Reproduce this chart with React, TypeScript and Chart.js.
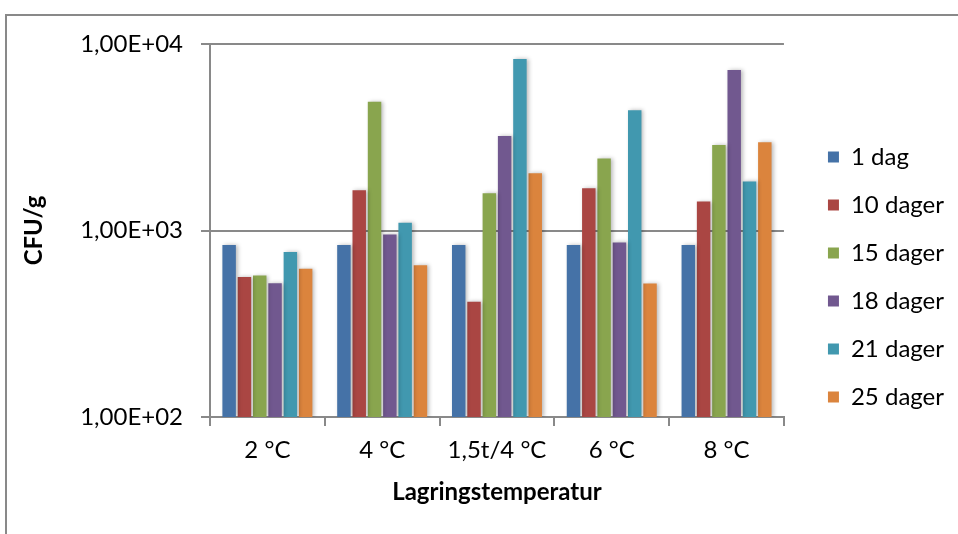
import React, { useEffect, useRef } from 'react';
import { Chart, registerables } from 'chart.js';

Chart.register(...registerables);

const categories = ['2 °C', '4 °C', '1,5t/4 °C', '6 °C', '8 °C'];
const seriesNames = ['1 dag', '10 dager', '15 dager', '18 dager', '21 dager', '25 dager'];
const dag1 = [835, 835, 835, 835, 835];
const dager10 = [564, 1645, 415, 1687, 1429];
const dager15 = [573, 4909, 1585, 2430, 2876];
const dager18 = [522, 952, 3215, 863, 7260];
const dager21 = [767, 1099, 8310, 4413, 1832];
const dager25 = [624, 652, 2030, 520, 2972];
const yTickValues = [100, 1000, 10000];
const yTickLabels = ['1,00E+02', '1,00E+03', '1,00E+04'];
const colors = ['#4572A7', '#AA4643', '#89A54E', '#71588F', '#4198AF', '#DB843D'];

const FONT = 'Lato, "Open Sans", sans-serif';
const GRID = '#898989';

const shadowPlugin = {
  id: 'barShadow',
  beforeDatasetsDraw(chart: any) {
    const ctx = chart.ctx;
    ctx.save();
    ctx.shadowColor = 'rgba(0,0,0,0.28)';
    ctx.shadowBlur = 4;
    ctx.shadowOffsetX = 2;
    ctx.shadowOffsetY = 0;
  },
  afterDatasetsDraw(chart: any) {
    chart.ctx.restore();
  },
};

export default function App() {
  const ref = useRef<HTMLCanvasElement | null>(null);

  useEffect(() => {
    if (!ref.current) return;
    const series = [dag1, dager10, dager15, dager18, dager21, dager25];
    const chart = new Chart(ref.current, {
      type: 'bar',
      data: {
        labels: categories,
        datasets: series.map((d, i) => ({
          label: seriesNames[i],
          data: d,
          backgroundColor: colors[i],
          borderWidth: 0,
          categoryPercentage: 0.8,
          barPercentage: 0.88,
          yAxisID: 'y',
        })),
      },
      options: {
        responsive: false,
        animation: false,
        devicePixelRatio: 1,
        layout: { padding: { top: 44, bottom: 24, left: 0, right: 4 } },
        plugins: {
          legend: {
            position: 'right',
            align: 'center',
            labels: {
              boxWidth: 11,
              boxHeight: 11,
              padding: 24,
              color: '#000',
              font: { family: FONT, size: 24 },
            },
          },
          tooltip: { enabled: false },
        },
        scales: {
          x: {
            grid: { drawOnChartArea: false, drawTicks: true, tickLength: 9, color: GRID, lineWidth: 2, offset: true },
            border: { display: true, color: GRID, width: 2 },
            ticks: { color: '#000', font: { family: FONT, size: 24 }, padding: 10, maxRotation: 0 },
            title: {
              display: true,
              text: 'Lagringstemperatur',
              color: '#000',
              font: { family: FONT, size: 24, weight: 'bold' },
              padding: { top: 0, bottom: 3 },
            },
            afterFit: (s: any) => { s.height = 93; },
          },
          y: {
            type: 'logarithmic',
            min: 100,
            max: 10000,
            grid: { color: GRID, lineWidth: 2, tickLength: 9 },
            border: { display: true, color: GRID, width: 2 },
            ticks: {
              color: '#000',
              font: { family: FONT, size: 24 },
              padding: 18,
              callback: (v: any) => {
                const idx = yTickValues.indexOf(Number(v));
                return idx >= 0 ? yTickLabels[idx] : '';
              },
            },
            afterBuildTicks: (s: any) => {
              s.ticks = yTickValues.map((v) => ({ value: v }));
            },
            title: {
              display: true,
              text: 'CFU/g',
              color: '#000',
              font: { family: FONT, size: 24, weight: 'bold' },
              padding: { top: 20, bottom: 0 },
            },
            afterFit: (s: any) => { s.width = 210; },
          },
          y2: {
            type: 'linear',
            position: 'right',
            display: true,
            grid: { display: false, drawTicks: false },
            border: { display: false },
            ticks: { display: false },
            afterFit: (s: any) => { s.width = 20; },
          },
        },
      },
      plugins: [shadowPlugin],
    } as any);
    return () => chart.destroy();
  }, []);

  return (
    <div style={{ position: 'fixed', left: 0, top: 0, width: 958, height: 534, background: '#fff' }}>
      <div
        style={{
          position: 'absolute',
          left: 5,
          top: 14,
          width: 960,
          height: 530,
          borderLeft: `2px solid ${GRID}`,
          borderTop: `2px solid ${GRID}`,
        }}
      />
      <canvas ref={ref} width={958} height={534} style={{ position: 'absolute', left: 0, top: 0 }} />
    </div>
  );
}
